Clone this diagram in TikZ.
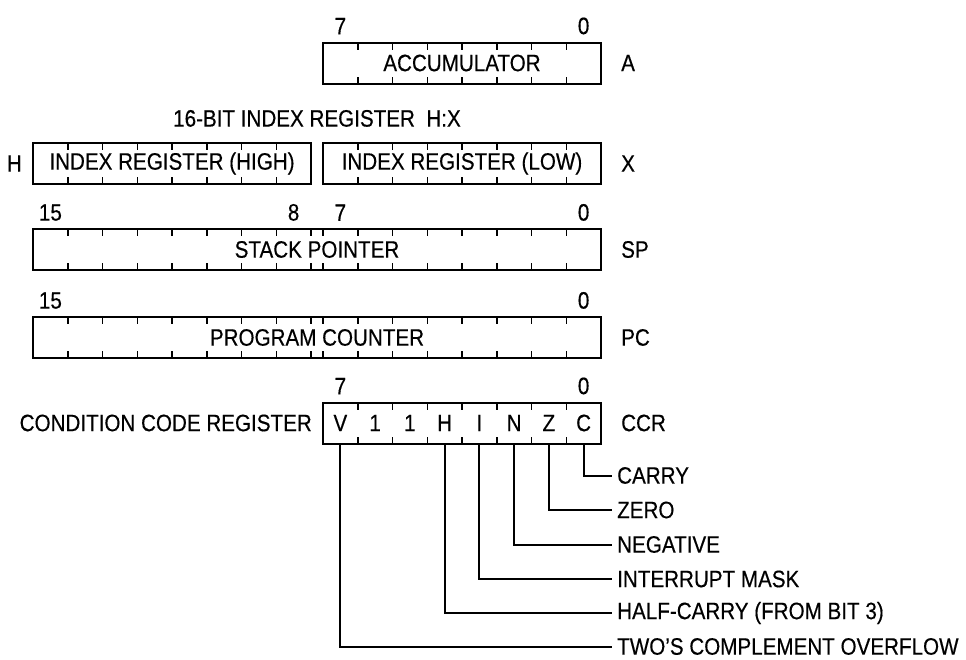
\documentclass[tikz,border=0pt]{standalone}
\usepackage{fontspec}
\setmainfont{Liberation Sans}[FakeStretch=0.87, FakeBold=0.4]
\usepackage{tikz}
\usetikzlibrary{positioning,calc}

% tick marks on top and bottom edge of a register, counted from one side
\newcommand{\cellticks}[4]{%
  \foreach \k in {1,...,#3}{%
    \draw[tick] ([xshift=#4*\k*34.75pt]#1.north #2) -- ++(0pt,-7pt);
    \draw[tick] ([xshift=#4*\k*34.75pt]#1.south #2) -- ++(0pt,7pt);
  }}

\begin{document}
\begin{tikzpicture}[x=1pt, y=-1pt,
reg/.style={draw=black, line width=2pt, minimum height=41pt, inner sep=0pt, outer sep=0pt, font=\fontsize{23.7pt}{28pt}\selectfont},
byte/.style={reg, minimum width=278pt},
word/.style={reg, minimum width=568pt},
tick/.style={line width=1.5pt},
lead/.style={line width=2pt},
txt/.style={inner sep=0pt, font=\fontsize{23.7pt}{28pt}\selectfont},
flag/.style={txt, anchor=west, inner xsep=5pt},
]
\useasboundingbox (0,0) rectangle (966,659);

%Registers
\node[byte] (acc) at (462,63) {ACCUMULATOR};
\node[byte] (idxl) [below=59.5pt of acc] {INDEX REGISTER (LOW)};
\node[byte] (idxh) [left=12pt of idxl] {INDEX REGISTER (HIGH)};
\node[word] (sp) [below right=45pt and 0pt of idxh.south west] {STACK POINTER};
\node[word] (pc) [below=47pt of sp] {PROGRAM COUNTER};
\node[byte] (ccr) [below left=44.5pt and 0pt of pc.south east] {};

%Cell ticks
\cellticks{acc}{west}{7}{1}
\cellticks{idxh}{west}{7}{1}
\cellticks{idxl}{west}{7}{1}
\cellticks{sp}{west}{8}{1}
\cellticks{sp}{east}{8}{-1}
\cellticks{pc}{west}{8}{1}
\cellticks{pc}{east}{8}{-1}
\cellticks{ccr}{west}{7}{1}

%Register names
\node[txt] (namea) [right=20pt of acc] {A};
\node[txt] (namex) [right=20pt of idxl] {X};
\node[txt] (namesp) [right=20pt of sp] {SP};
\node[txt] (namepc) [right=20pt of pc] {PC};
\node[txt] (nameccr) [right=20pt of ccr] {CCR};
\node[txt] (nameh) [left=11pt of idxh] {H};
\node[txt] (ccrtitle) [left=11pt of ccr] {CONDITION CODE REGISTER};
\node[txt] (hxtitle) [above=16pt of $(idxh.north east)!0.5!(idxl.north west)$] {16-BIT INDEX REGISTER\ \ H:X};

%Bit numbers
\node[txt] (acc7) [above=8pt of acc.north west, xshift=17.4pt] {7};
\node[txt] (acc0) [above=8pt of acc.north east, xshift=-17.4pt] {0};
\node[txt] (sp15) [above=8pt of sp.north west, xshift=17.4pt] {15};
\node[txt] (sp8) [above=8pt of sp.north west, xshift=260.6pt] {8};
\node[txt] (sp7) [above=8pt of sp.north east, xshift=-260.6pt] {7};
\node[txt] (sp0) [above=8pt of sp.north east, xshift=-17.4pt] {0};
\node[txt] (pc15) [above=8pt of pc.north west, xshift=17.4pt] {15};
\node[txt] (pc0) [above=8pt of pc.north east, xshift=-17.4pt] {0};
\node[txt] (ccr7) [above=8pt of ccr.north west, xshift=17.4pt] {7};
\node[txt] (ccr0) [above=8pt of ccr.north east, xshift=-17.4pt] {0};

%CCR bits
\foreach \b [count=\i] in {V,1,1,H,I,N,Z,C}
  \node[txt] (bit\i) at ([xshift=(\i-0.5)*34.75pt]ccr.west) {\b};

%Flag labels
\node[flag] (carry) at (612,475.5) {CARRY};
\node[flag] (zero) at (612,510) {ZERO};
\node[flag] (negative) at (612,544.5) {NEGATIVE};
\node[flag] (intmask) at (612,579) {INTERRUPT MASK};
\node[flag] (halfcarry) at (612,613) {HALF-CARRY (FROM BIT 3)};
\node[flag] (overflow) at (612,646.5) {TWO'S COMPLEMENT OVERFLOW};

%Leaders
\draw[lead] (bit8 |- ccr.south) |- (carry.west);
\draw[lead] (bit7 |- ccr.south) |- (zero.west);
\draw[lead] (bit6 |- ccr.south) |- (negative.west);
\draw[lead] (bit5 |- ccr.south) |- (intmask.west);
\draw[lead] (bit4 |- ccr.south) |- (halfcarry.west);
\draw[lead] (bit1 |- ccr.south) |- (overflow.west);
\end{tikzpicture}
\end{document}
